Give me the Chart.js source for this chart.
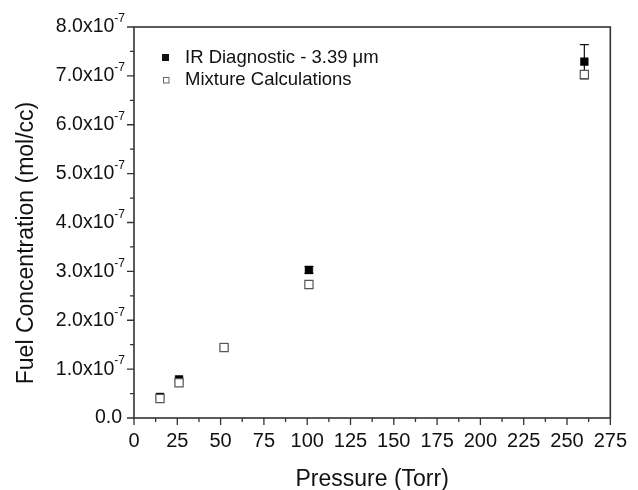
<!DOCTYPE html>
<html>
<head>
<meta charset="utf-8">
<script src="https://cdn.jsdelivr.net/npm/chart.js@4"></script>
<style>
  html, body { margin: 0; padding: 0; background: #fff; }
  #wrap { width: 638px; height: 490px; }
</style>
</head>
<body>
<div id="wrap"><canvas id="chart" width="638" height="490"></canvas></div>
<script>
// données
const pressure = [15, 26, 52, 101, 260];            // Torr
const irDiag = [0.43e-7, 0.79e-7, 1.45e-7, 3.03e-7, 7.29e-7];
const irErr = [0, 0, 0, 0.07e-7, 0.35e-7];
const mixture = [0.40e-7, 0.72e-7, 1.44e-7, 2.73e-7, 7.03e-7];
const yTicks = ['0.0', '1.0', '2.0', '3.0', '4.0', '5.0', '6.0', '7.0', '8.0'];
const legendLabels = ['IR Diagnostic - 3.39 \u03BCm', 'Mixture Calculations'];

const FONT = '"Liberation Sans", Arial, sans-serif';
const INK = '#111';

const toPoints = (xs, ys) => xs.map((x, i) => ({ x: x, y: ys[i] }));

// dessin des axes, graduations, titres, légende et barres d'erreur
const decorPlugin = {
  id: 'decor',
  beforeDatasetsDraw(chart) {
    const ctx = chart.ctx;
    const xs = chart.scales.x, ys = chart.scales.y;
    ctx.save();
    ctx.strokeStyle = INK;
    ctx.lineWidth = 1.2;
    pressure.forEach((p, i) => {
      if (!irErr[i]) return;
      const px = xs.getPixelForValue(p);
      const top = ys.getPixelForValue(irDiag[i] + irErr[i]);
      const bot = ys.getPixelForValue(irDiag[i] - irErr[i]);
      ctx.beginPath();
      ctx.moveTo(px, top); ctx.lineTo(px, bot);
      ctx.moveTo(px - 4.5, top); ctx.lineTo(px + 4.5, top);
      ctx.moveTo(px - 4.5, bot); ctx.lineTo(px + 4.5, bot);
      ctx.stroke();
    });
    ctx.restore();
  },
  afterDraw(chart) {
    const ctx = chart.ctx;
    const a = chart.chartArea;
    const xs = chart.scales.x, ys = chart.scales.y;
    ctx.save();

    // cadre
    ctx.strokeStyle = '#333';
    ctx.lineWidth = 1.6;
    ctx.strokeRect(a.left, a.top, a.right - a.left, a.bottom - a.top);

    // graduations x (majeures + mineures, vers l'extérieur)
    ctx.lineWidth = 1.3;
    ctx.beginPath();
    for (let v = 0; v <= 275; v += 12.5) {
      const px = xs.getPixelForValue(v);
      const len = (v % 25 === 0) ? 7 : 4;
      ctx.moveTo(px, a.bottom); ctx.lineTo(px, a.bottom + len);
    }
    // graduations y
    for (let k = 0; k <= 16; k++) {
      const py = ys.getPixelForValue(k * 0.5e-7);
      const len = (k % 2 === 0) ? 7 : 4;
      ctx.moveTo(a.left, py); ctx.lineTo(a.left - len, py);
    }
    ctx.stroke();

    // étiquettes y avec exposant
    ctx.fillStyle = INK;
    ctx.textBaseline = 'middle';
    yTicks.forEach((lab, k) => {
      const py = ys.getPixelForValue(k * 1e-7);
      const right = a.left - 9;
      if (k === 0) {
        ctx.font = '19.5px ' + FONT;
        ctx.textAlign = 'right';
        ctx.fillText(lab, right - 3, py);
        return;
      }
      ctx.font = '12px ' + FONT;
      const sup = '-7';
      const wSup = ctx.measureText(sup).width;
      ctx.textAlign = 'left';
      ctx.fillText(sup, right - wSup, py - 8);
      ctx.font = '19.5px ' + FONT;
      ctx.textAlign = 'right';
      ctx.fillText(lab + 'x10', right - wSup, py);
    });

    // titres des axes
    ctx.font = '23px ' + FONT;
    ctx.textAlign = 'center';
    ctx.textBaseline = 'alphabetic';
    ctx.fillText('Pressure (Torr)', (a.left + a.right) / 2, 486);
    ctx.save();
    ctx.translate(33, 243);
    ctx.rotate(-Math.PI / 2);
    ctx.fillText('Fuel Concentration (mol/cc)', 0, 0);
    ctx.restore();

    // légende
    ctx.font = '18.5px ' + FONT;
    ctx.textAlign = 'left';
    ctx.textBaseline = 'middle';
    ctx.fillStyle = INK;
    ctx.fillRect(162, 54, 7, 7);
    ctx.fillText(legendLabels[0], 185, 57.5);
    ctx.fillStyle = '#fff';
    ctx.strokeStyle = '#666';
    ctx.lineWidth = 1;
    ctx.fillRect(163.5, 77.5, 5.5, 5.5);
    ctx.strokeRect(163.5, 77.5, 5.5, 5.5);
    ctx.fillStyle = INK;
    ctx.fillText(legendLabels[1], 185, 80);

    ctx.restore();
  }
};

const chart = new Chart(document.getElementById('chart'), {
  type: 'scatter',
  data: {
    datasets: [
      {
        label: legendLabels[0],
        data: toPoints(pressure, irDiag),
        pointStyle: 'rect',
        pointRadius: 5.5,
        pointBackgroundColor: '#000',
        pointBorderColor: '#000',
        pointBorderWidth: 0.5,
        order: 2
      },
      {
        label: legendLabels[1],
        data: toPoints(pressure, mixture),
        pointStyle: 'rect',
        pointRadius: 5.8,
        pointBackgroundColor: '#fff',
        pointBorderColor: '#555',
        pointBorderWidth: 1.2,
        order: 1
      }
    ]
  },
  options: {
    responsive: false,
    animation: false,
    layout: { padding: { top: 27, right: 20, left: 0, bottom: 0 } },
    plugins: {
      legend: { display: false },
      tooltip: { enabled: false }
    },
    scales: {
      x: {
        type: 'linear',
        min: 0,
        max: 275,
        grid: { display: false, drawTicks: false },
        border: { display: false },
        ticks: {
          stepSize: 25,
          padding: 11,
          color: INK,
          font: { family: FONT, size: 20 }
        },
        afterFit(scale) { scale.height = 72; }
      },
      y: {
        type: 'linear',
        min: 0,
        max: 8e-7,
        grid: { display: false, drawTicks: false },
        border: { display: false },
        ticks: { display: false },
        afterFit(scale) { scale.width = 134; }
      }
    }
  },
  plugins: [decorPlugin]
});
</script>
</body>
</html>
